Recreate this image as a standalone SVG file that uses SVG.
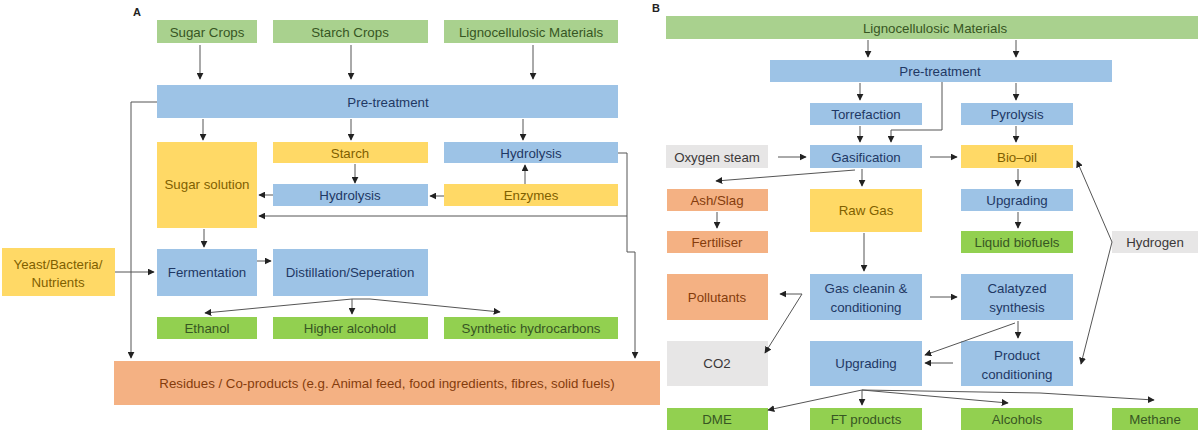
<svg xmlns="http://www.w3.org/2000/svg" width="1200" height="434" viewBox="0 0 1200 434">
<defs>
<marker id="ah" viewBox="0 0 10 10" refX="9" refY="5" markerWidth="7" markerHeight="7" markerUnits="userSpaceOnUse" orient="auto">
<path d="M0,0 L10,5 L0,10 z" fill="#222"/>
</marker>
<style>
text{font-family:"Liberation Sans",Arial,sans-serif;font-size:13.3px;text-anchor:middle;dominant-baseline:central}
.src rect{fill:#a9d18e}.src text{fill:#375623}
.prd rect{fill:#92d050}.prd text{fill:#375623}
.blu rect{fill:#9dc3e6}.blu text{fill:#1f3864}
.yel rect{fill:#ffd966}.yel text{fill:#7f6000}
.org rect{fill:#f4b183}.org text{fill:#843c0c}
.gry rect{fill:#e7e6e6}.gry text{fill:#3b3838}
.lbl{font-weight:bold;font-size:11px;fill:#222;text-anchor:start}
#connectors path{fill:none;stroke:#555;stroke-width:1;marker-end:url(#ah)}
</style>
</defs>
<rect width="1200" height="434" fill="#fff"/>
<text class="lbl" x="133" y="12">A</text>
<text class="lbl" x="652" y="8">B</text>

<!-- Panel A -->
<g id="a_sugar_crops" class="src"><rect x="157" y="20" width="100" height="23"/><text x="207" y="32">Sugar Crops</text></g>
<g id="a_starch_crops" class="src"><rect x="273" y="20" width="155" height="23"/><text x="350" y="32">Starch Crops</text></g>
<g id="a_ligno" class="src"><rect x="444" y="20" width="174" height="23"/><text x="531" y="32">Lignocellulosic Materials</text></g>
<g id="a_pretreat" class="blu"><rect x="157" y="85" width="461" height="33"/><text x="388" y="102">Pre-treatment</text></g>
<g id="a_sugar_solution" class="yel"><rect x="157" y="142" width="100" height="86"/><text x="207" y="184">Sugar solution</text></g>
<g id="a_starch" class="yel"><rect x="273" y="142" width="155" height="21"/><text x="350" y="153">Starch</text></g>
<g id="a_hydrolysis1" class="blu"><rect x="444" y="142" width="174" height="21"/><text x="531" y="153">Hydrolysis</text></g>
<g id="a_hydrolysis2" class="blu"><rect x="273" y="184" width="155" height="22"/><text x="350" y="195">Hydrolysis</text></g>
<g id="a_enzymes" class="yel"><rect x="444" y="184" width="174" height="22"/><text x="531" y="195">Enzymes</text></g>
<g id="a_yeast" class="yel"><rect x="2" y="248" width="113" height="48"/><text x="58" y="264">Yeast/Bacteria/</text><text x="58" y="282">Nutrients</text></g>
<g id="a_fermentation" class="blu"><rect x="157" y="249" width="100" height="47"/><text x="207" y="272">Fermentation</text></g>
<g id="a_distillation" class="blu"><rect x="273" y="249" width="155" height="47"/><text x="350" y="272">Distillation/Seperation</text></g>
<g id="a_ethanol" class="prd"><rect x="157" y="317" width="100" height="22"/><text x="207" y="328">Ethanol</text></g>
<g id="a_higher_alcohol" class="prd"><rect x="273" y="317" width="155" height="22"/><text x="350" y="328">Higher alcohold</text></g>
<g id="a_synthetic" class="prd"><rect x="444" y="317" width="174" height="22"/><text x="531" y="328">Synthetic hydrocarbons</text></g>
<g id="a_residues" class="org"><rect x="114" y="361" width="546" height="44"/><text x="387" y="383">Residues / Co-products (e.g. Animal feed, food ingredients, fibres, solid fuels)</text></g>

<!-- Panel B -->
<g id="b_ligno" class="src"><rect x="666" y="16" width="532" height="23"/><text x="935" y="28">Lignocellulosic Materials</text></g>
<g id="b_pretreat" class="blu"><rect x="770" y="60" width="342" height="22"/><text x="940" y="71">Pre-treatment</text></g>
<g id="b_torrefaction" class="blu"><rect x="810" y="103" width="112" height="22"/><text x="866" y="114">Torrefaction</text></g>
<g id="b_pyrolysis" class="blu"><rect x="961" y="103" width="112" height="22"/><text x="1017" y="114">Pyrolysis</text></g>
<g id="b_oxygen" class="gry"><rect x="666" y="145" width="102" height="23"/><text x="717" y="157">Oxygen steam</text></g>
<g id="b_gasification" class="blu"><rect x="810" y="145" width="112" height="23"/><text x="866" y="157">Gasification</text></g>
<g id="b_biooil" class="yel"><rect x="961" y="145" width="112" height="23"/><text x="1017" y="157">Bio–oil</text></g>
<g id="b_ash" class="org"><rect x="667" y="189" width="101" height="22"/><text x="717" y="200">Ash/Slag</text></g>
<g id="b_rawgas" class="yel"><rect x="810" y="189" width="112" height="43"/><text x="866" y="210">Raw Gas</text></g>
<g id="b_upgrading1" class="blu"><rect x="961" y="189" width="112" height="22"/><text x="1017" y="200">Upgrading</text></g>
<g id="b_fertiliser" class="org"><rect x="667" y="231" width="101" height="22"/><text x="717" y="242">Fertiliser</text></g>
<g id="b_liquid" class="prd"><rect x="961" y="231" width="112" height="22"/><text x="1017" y="242">Liquid biofuels</text></g>
<g id="b_hydrogen" class="gry"><rect x="1112" y="231" width="86" height="22"/><text x="1155" y="242">Hydrogen</text></g>
<g id="b_pollutants" class="org"><rect x="667" y="274" width="101" height="46"/><text x="717" y="297">Pollutants</text></g>
<g id="b_gasclean" class="blu"><rect x="810" y="274" width="112" height="46"/><text x="866" y="288">Gas cleanin &amp;</text><text x="866" y="307">conditioning</text></g>
<g id="b_catalyzed" class="blu"><rect x="961" y="274" width="112" height="46"/><text x="1017" y="288">Calatyzed</text><text x="1017" y="307">synthesis</text></g>
<g id="b_co2" class="gry"><rect x="667" y="341" width="101" height="45"/><text x="717" y="363">CO2</text></g>
<g id="b_upgrading2" class="blu"><rect x="810" y="341" width="112" height="45"/><text x="866" y="363">Upgrading</text></g>
<g id="b_product_cond" class="blu"><rect x="961" y="341" width="112" height="45"/><text x="1017" y="355">Product</text><text x="1017" y="374">conditioning</text></g>
<g id="b_dme" class="prd"><rect x="667" y="408" width="101" height="22"/><text x="717" y="419">DME</text></g>
<g id="b_ft" class="prd"><rect x="810" y="408" width="112" height="22"/><text x="866" y="419">FT products</text></g>
<g id="b_alcohols" class="prd"><rect x="961" y="408" width="112" height="22"/><text x="1017" y="419">Alcohols</text></g>
<g id="b_methane" class="prd"><rect x="1112" y="408" width="86" height="22"/><text x="1155" y="419">Methane</text></g>

<g id="connectors">
<!-- A -->
<path d="M200,45 V79"/>
<path d="M351,45 V79"/>
<path d="M533,45 V79"/>
<path d="M203,119 V140"/>
<path d="M351,119 V140"/>
<path d="M523,119 V140"/>
<path d="M355,164 V183"/>
<path d="M525,184 V165"/>
<path d="M444,196 H430"/>
<path d="M273,195 H259"/>
<path d="M618,153 H627 V216 H259"/>
<path d="M627,216 V252 H635 V358"/>
<path d="M157,102 H131 V358"/>
<path d="M115,272 H154"/>
<path d="M204,229 V247"/>
<path d="M257,261 H271"/>
<path d="M352,299 L205,313"/>
<path d="M352,299 V314"/>
<path d="M352,299 L370,299 L500,312"/>
<!-- B -->
<path d="M868,40 V57"/>
<path d="M1016,40 V57"/>
<path d="M860,83 V100"/>
<path d="M1016,83 V100"/>
<path d="M942,82 V130 H891 V142"/>
<path d="M860,126 V142"/>
<path d="M1016,126 V142"/>
<path d="M778,157 H806"/>
<path d="M930,157 H957"/>
<path d="M855,170 L716,181"/>
<path d="M862,169 V186"/>
<path d="M1018,169 V186"/>
<path d="M717,212 V228"/>
<path d="M1018,212 V228"/>
<path d="M1112,242 L1077,161"/>
<path d="M1112,242 L1081,364"/>
<path d="M864,233 V271"/>
<path d="M802,294 H780"/>
<path d="M802,294 L765,353"/>
<path d="M930,297 H957"/>
<path d="M1018,321 V338"/>
<path d="M1015,323 L925,355"/>
<path d="M953,363 H925"/>
<path d="M862,390 L768,410"/>
<path d="M862,390 V405"/>
<path d="M862,390 L1008,403"/>
<path d="M862,390 L1040,393 L1154,400"/>
</g>
</svg>
